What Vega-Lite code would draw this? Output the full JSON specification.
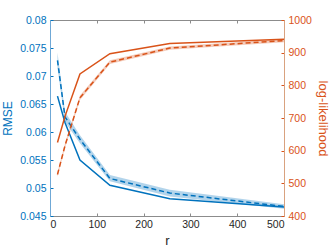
{
  "$schema": "https://vega.github.io/schema/vega-lite/v6.json",
  "width": 234,
  "height": 196,
  "autosize": "none",
  "padding": {"left": 50, "top": 20, "right": 48, "bottom": 33},
  "background": "white",
  "config": {
    "view": {"stroke": null},
    "axis": {
      "grid": false,
      "labelFont": "Liberation Sans",
      "titleFont": "Liberation Sans",
      "labelFontSize": 10.5,
      "titleFontSize": 12,
      "titleFontWeight": "normal",
      "tickSize": -3,
      "labelPadding": 7,
      "labelOverlap": false,
      "domainWidth": 1,
      "tickWidth": 1
    }
  },
  "data": {
    "values": [
      {"r": 16, "rmse_solid": 0.0664, "rmse_dash": 0.0728, "rmse_lo": 0.0715, "rmse_hi": 0.0742, "ll_solid": 625, "ll_dash": 527, "ll_lo": 520, "ll_hi": 534},
      {"r": 32, "rmse_solid": 0.0617, "rmse_dash": 0.0627, "rmse_lo": 0.0618, "rmse_hi": 0.0636, "ll_solid": 705, "ll_dash": 615, "ll_lo": 608, "ll_hi": 622},
      {"r": 64, "rmse_solid": 0.0550, "rmse_dash": 0.0587, "rmse_lo": 0.0580, "rmse_hi": 0.0594, "ll_solid": 835, "ll_dash": 762, "ll_lo": 755, "ll_hi": 769},
      {"r": 128, "rmse_solid": 0.0505, "rmse_dash": 0.0517, "rmse_lo": 0.0512, "rmse_hi": 0.0523, "ll_solid": 897, "ll_dash": 871, "ll_lo": 865, "ll_hi": 877},
      {"r": 256, "rmse_solid": 0.0481, "rmse_dash": 0.0491, "rmse_lo": 0.0485, "rmse_hi": 0.0497, "ll_solid": 928, "ll_dash": 914, "ll_lo": 909, "ll_hi": 919},
      {"r": 500, "rmse_solid": 0.0466, "rmse_dash": 0.0467, "rmse_lo": 0.0463, "rmse_hi": 0.0471, "ll_solid": 941, "ll_dash": 937, "ll_lo": 932, "ll_hi": 942}
    ]
  },
  "layer": [
    {
      "layer": [
        {
          "mark": {"type": "area", "color": "#0072BD", "opacity": 0.3},
          "encoding": {
            "x": {"field": "r", "type": "quantitative", "scale": {"domain": [0, 500], "nice": false},
                  "axis": {"orient": "bottom", "title": "r", "titleFontSize": 13, "values": [0, 100, 200, 300, 400, 500], "tickCount": 12, "labelColor": "#262626", "titleColor": "#262626", "domainColor": "#8c8c8c", "tickColor": "#8c8c8c", "titlePadding": 5, "labelPadding": 6}},
            "y": {"field": "rmse_lo", "type": "quantitative", "scale": {"domain": [0.045, 0.08], "nice": false, "zero": false},
                  "axis": {"orient": "left", "title": "RMSE", "values": [0.045, 0.05, 0.055, 0.06, 0.065, 0.07, 0.075, 0.08], "tickCount": 12, "format": ".3~f",
                           "labelColor": "#0072BD", "titleColor": "#0072BD", "domainColor": "#6fa8d6", "tickColor": "#0072BD", "titlePadding": 5}},
            "y2": {"field": "rmse_hi"}
          }
        },
        {
          "mark": {"type": "line", "color": "#0072BD", "strokeWidth": 1.5},
          "encoding": {
            "x": {"field": "r", "type": "quantitative"},
            "y": {"field": "rmse_solid", "type": "quantitative"}
          }
        },
        {
          "mark": {"type": "line", "color": "#0072BD", "strokeWidth": 1.5, "strokeDash": [5, 3]},
          "encoding": {
            "x": {"field": "r", "type": "quantitative"},
            "y": {"field": "rmse_dash", "type": "quantitative"}
          }
        }
      ]
    },
    {
      "layer": [
        {
          "mark": {"type": "area", "color": "#D95319", "opacity": 0.3},
          "encoding": {
            "x": {"field": "r", "type": "quantitative",
                  "axis": {"orient": "top", "labels": false, "title": null, "values": [0, 100, 200, 300, 400, 500], "tickCount": 12, "domainColor": "#8c8c8c", "tickColor": "#8c8c8c"}},
            "y": {"field": "ll_lo", "type": "quantitative", "scale": {"domain": [400, 1000], "nice": false, "zero": false},
                  "axis": {"orient": "right", "title": "log-likelihood", "titleFontSize": 13, "values": [400, 500, 600, 700, 800, 900, 1000], "tickCount": 12, "format": "d",
                           "labelColor": "#D95319", "titleColor": "#D95319", "domainColor": "#d9a27f", "tickColor": "#D95319", "titlePadding": 4}},
            "y2": {"field": "ll_hi"}
          }
        },
        {
          "mark": {"type": "line", "color": "#D95319", "strokeWidth": 1.5},
          "encoding": {
            "x": {"field": "r", "type": "quantitative"},
            "y": {"field": "ll_solid", "type": "quantitative"}
          }
        },
        {
          "mark": {"type": "line", "color": "#D95319", "strokeWidth": 1.5, "strokeDash": [5, 3]},
          "encoding": {
            "x": {"field": "r", "type": "quantitative"},
            "y": {"field": "ll_dash", "type": "quantitative"}
          }
        }
      ]
    }
  ],
  "resolve": {"scale": {"y": "independent"}, "axis": {"x": "independent"}}
}
